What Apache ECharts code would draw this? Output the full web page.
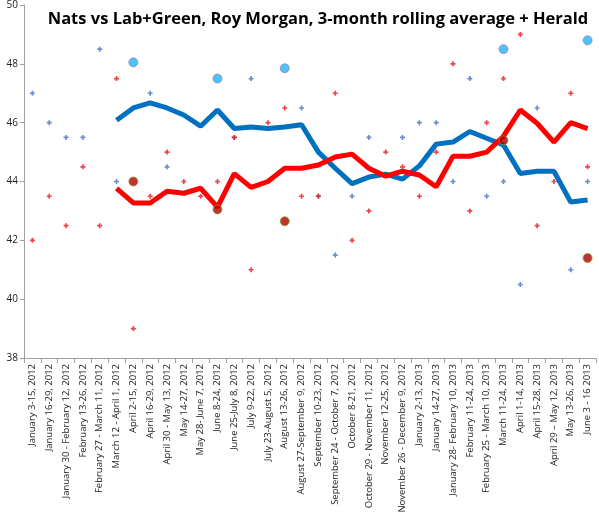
<!DOCTYPE html>
<html><head><meta charset="utf-8">
<script src="https://cdn.jsdelivr.net/npm/echarts@6/dist/echarts.min.js"></script>
<style>html,body{margin:0;padding:0;background:#fff}#c{width:599px;height:520px}</style>
</head><body><div id="c"></div>
<script>
var categories = ["January 3-15, 2012","January 16-29, 2012","January 30 - February 12, 2012","February 13-26, 2012","February 27 - March 11, 2012","March 12 - April 1, 2012","April 2-15, 2012","April 16-29, 2012","April 30 - May 13, 2012","May 14-27, 2012","May 28- June 7, 2012","June 8-24, 2012","June 25-July 8, 2012","July 9-22, 2012","July 23-August 5, 2012","August 13-26, 2012","August 27-September 9, 2012","September 10-23, 2012","September 24 - October 7, 2012","October 8-21, 2012","October 29 - November 11, 2012","November 12-25, 2012","November 26 - December 9, 2012","January 2-13, 2013","January 14-27, 2013","January 28- February 10, 2013","February 11-24, 2013","February 25 - March 10, 2013","March 11-24, 2013","April 1-14, 2013","April 15-28, 2013","April 29 \u2013 May 12, 2013","May 13-26, 2013","June 3 - 16 2013"];
var natsRaw = [47,46,45.5,45.5,48.5,44,null,47,44.5,null,null,null,45.5,47.5,null,null,46.5,43.5,41.5,43.5,45.5,null,45.5,46,46,44,47.5,43.5,44,40.5,46.5,null,41,44];
var labGreenRaw = [42,43.5,42.5,44.5,42.5,47.5,39,43.5,45,44,43.5,44,45.5,41,46,46.5,43.5,43.5,47,42,43,45,44.5,43.5,45,48,43,46,47.5,49,42.5,44,47,44.5];
var natsAvg = [null,null,null,null,null,46.08,46.5,46.67,46.5,46.26,45.88,46.43,45.8,45.85,45.8,45.85,45.93,45.0,44.45,43.93,44.15,44.25,44.08,44.53,45.27,45.34,45.7,45.47,45.24,44.27,44.35,44.35,43.3,43.37];
var labGreenAvg = [null,null,null,null,null,43.77,43.27,43.27,43.67,43.6,43.77,43.13,44.27,43.8,44.0,44.45,44.45,44.56,44.83,44.93,44.45,44.18,44.35,44.22,43.82,44.86,44.86,45.0,45.54,46.43,45.98,45.34,46.0,45.8];
var heraldNats = [null,null,null,null,null,null,48.05,null,null,null,null,47.5,null,null,null,47.85,null,null,null,null,null,null,null,null,null,null,null,null,48.5,null,null,null,null,48.8];
var heraldLabGreen = [null,null,null,null,null,null,44,null,null,null,null,43.05,null,null,null,42.65,null,null,null,null,null,null,null,null,null,null,null,null,45.4,null,null,null,null,41.4];
var yTicks = {min:38,max:50,interval:2};
var plus = 'path://M1,0H2V1H3V2H2V3H1V2H0V1H1Z';
var chart = echarts.init(document.getElementById('c'));
chart.setOption({
  animation:false,
  title:{text:'Nats vs Lab+Green, Roy Morgan, 3-month rolling average + Herald',left:313,textAlign:'center',top:6,textStyle:{fontFamily:'Open Sans',fontWeight:'bold',fontSize:16.5,color:'#000'}},
  grid:{left:24,right:3,top:5,bottom:162,containLabel:false},
  xAxis:{type:'category',data:categories,boundaryGap:true,
    axisLine:{lineStyle:{color:'#a0a0a0'}},axisTick:{show:true,interval:0,lineStyle:{color:'#a0a0a0'}},
    axisLabel:{rotate:90,interval:0,fontSize:9.5,fontFamily:'Open Sans',color:'#222',margin:6}},
  yAxis:{type:'value',min:yTicks.min,max:yTicks.max,interval:yTicks.interval,splitLine:{show:false},
    axisLine:{show:true,lineStyle:{color:'#a0a0a0'}},axisTick:{show:true,length:4,lineStyle:{color:'#a0a0a0'}},
    axisLabel:{fontSize:10,fontFamily:'Open Sans',color:'#222',margin:6}},
  series:[
    {type:'scatter',data:natsRaw,symbol:plus,symbolSize:5,itemStyle:{color:'#4472C4'}},
    {type:'scatter',data:labGreenRaw,symbol:plus,symbolSize:5,itemStyle:{color:'#E8141B'}},
    {type:'line',data:natsAvg,showSymbol:false,lineStyle:{color:'#0070C0',width:5},itemStyle:{color:'#0070C0'}},
    {type:'line',data:labGreenAvg,showSymbol:false,lineStyle:{color:'#FF0000',width:5},itemStyle:{color:'#FF0000'}},
    {type:'scatter',data:heraldNats,symbol:'circle',symbolSize:9,itemStyle:{color:'#1EB4F0',borderColor:'#9B84C8',borderWidth:1},z:5},
    {type:'scatter',data:heraldLabGreen,symbol:'circle',symbolSize:9,itemStyle:{color:'#B00000',borderColor:'#8CA030',borderWidth:1},z:5}
  ]
});
</script></body></html>
